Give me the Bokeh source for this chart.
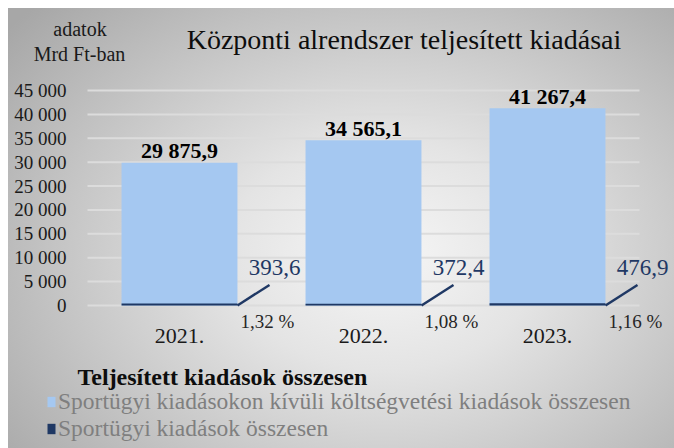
from bokeh.plotting import figure
from bokeh.models import (ColumnDataSource, Range1d, Label, LabelSet, Legend, LegendItem)
from bokeh.core.properties import value
from bokeh.embed import file_html
from bokeh.resources import INLINE

years = ["2021.", "2022.", "2023."]
other_total = [29875.9, 34565.1, 41267.4]
sport_total = [393.6, 372.4, 476.9]
other_labels = ["29 875,9", "34 565,1", "41 267,4"]
sport_labels = ["393,6", "372,4", "476,9"]
share_labels = ["1,32 %", "1,08 %", "1,16 %"]
y_ticks = [0, 5000, 10000, 15000, 20000, 25000, 30000, 35000, 40000, 45000]
y_tick_labels = ["0", "5 000", "10 000", "15 000", "20 000", "25 000",
                 "30 000", "35 000", "40 000", "45 000"]
leader_top = [4300, 4300, 4300]

FONT = "Liberation Serif, Times New Roman, serif"
F = value(FONT)
LIGHT = "#a5c8f1"
NAVY = "#1f3864"

W, H = 674, 448
# plot area (pixels): categories span 87..639, value 0 at y=305, 45 000 at y=90
PX_PER_CAT = 184.0
UNITS_PER_PX = 45000 / 215.0
x_start = -87 / PX_PER_CAT
x_end = (W - 87) / PX_PER_CAT
y_start = -(H - 305) * UNITS_PER_PX
y_end = 45000 + 90 * UNITS_PER_PX

xpos = [i + 0.5 for i in range(len(years))]
n = len(years)

src = ColumnDataSource(dict(x=xpos, year=years, other=other_total, sport=sport_total,
                            olab=other_labels, slab=sport_labels, plab=share_labels,
                            ltop=leader_top, zero=[0] * n,
                            xr=[v + 0.315 for v in xpos], xl=[v + 0.489 for v in xpos]))
grid_src = ColumnDataSource(dict(y=y_ticks, lab=y_tick_labels,
                                 x0=[0] * len(y_ticks), x1=[n] * len(y_ticks)))

p = figure(width=W, height=H, x_range=Range1d(x_start, x_end), y_range=Range1d(y_start, y_end),
           output_backend="svg", toolbar_location=None, min_border=0)
p.title.visible = False
p.axis.visible = False
p.grid.visible = False
p.background_fill_alpha = 0
p.border_fill_alpha = 0
p.outline_line_color = None
p.styles = {"background":
            "linear-gradient(#ffffff, #ffffff) 0 0 / 100% 8px no-repeat, "
            "linear-gradient(#ffffff, #ffffff) 0 0 / 8px 100% no-repeat, "
            "radial-gradient(ellipse 72% 80% at 57% 57%, #f6f6f6 0%, #e4e4e4 32%, #c4c4c4 68%, #a7a7a7 100%)"}

# gridlines
p.segment(x0="x0", y0="y", x1="x1", y1="y", source=grid_src, line_color="#dcdcdc", line_width=2)

r1 = p.vbar(x="x", top="other", width=0.63, source=src, fill_color=LIGHT, line_color=None)
r2 = p.vbar(x="x", top="sport", width=0.63, source=src, fill_color=NAVY, line_color=None)

p.segment(x0="xr", y0="zero", x1="xl", y1="ltop", source=src, line_color=NAVY, line_width=2.5)

# y tick labels
p.add_layout(LabelSet(x="x0", y="y", text="lab", source=grid_src, x_offset=-21,
                      text_align="right", text_baseline="middle",
                      text_font=F, text_font_size="19px", text_color="#1a1a1a"))
# category labels
p.add_layout(LabelSet(x="x", y="zero", text="year", source=src, y_offset=-30,
                      text_align="center", text_baseline="middle",
                      text_font=F, text_font_size="22px", text_color="#1a1a1a"))

p.add_layout(LabelSet(x="x", y="other", text="olab", source=src, y_offset=12,
                      text_align="center", text_baseline="middle",
                      text_font=F, text_font_size="22px", text_font_style="bold",
                      text_color="#000000"))
p.add_layout(LabelSet(x="x", y="zero", text="slab", source=src, x_offset=95, y_offset=38,
                      text_align="center", text_baseline="middle",
                      text_font=F, text_font_size="23px", text_color=NAVY))
p.add_layout(LabelSet(x="x", y="zero", text="plab", source=src, x_offset=88, y_offset=-16,
                      text_align="center", text_baseline="middle",
                      text_font=F, text_font_size="19px", text_color="#262626"))

p.add_layout(Label(x=79.5, y=420, x_units="screen", y_units="screen", text="adatok",
                   text_align="center", text_baseline="middle", text_font=FONT,
                   text_font_size="20px", text_color="#1a1a1a"))
p.add_layout(Label(x=79, y=395, x_units="screen", y_units="screen", text="Mrd Ft-ban",
                   text_align="center", text_baseline="middle", text_font=FONT,
                   text_font_size="20px", text_color="#1a1a1a"))
p.add_layout(Label(x=403.5, y=409, x_units="screen", y_units="screen",
                   text="Központi alrendszer teljesített kiadásai",
                   text_align="center", text_baseline="middle", text_font=FONT,
                   text_font_size="28px", text_color="#0d0d0d"))
p.add_layout(Label(x=77, y=72, x_units="screen", y_units="screen",
                   text="Teljesített kiadások összesen",
                   text_align="left", text_baseline="middle", text_font=FONT,
                   text_font_size="24px", text_font_style="bold", text_color="#0d0d0d"))

legend = Legend(items=[LegendItem(label="Sportügyi kiadásokon kívüli költségvetési kiadások összesen", renderers=[r1]),
                       LegendItem(label="Sportügyi kiadások összesen", renderers=[r2])],
                location=(46, 6), orientation="vertical",
                glyph_width=10, glyph_height=13, label_standoff=2, spacing=0,
                padding=0, margin=0, border_line_color=None, background_fill_alpha=0,
                label_text_font=FONT, label_text_font_size="23.5px", label_text_color="#7f7f7f")
p.add_layout(legend, "center")

open("out.html", "w").write(file_html(p, INLINE))
